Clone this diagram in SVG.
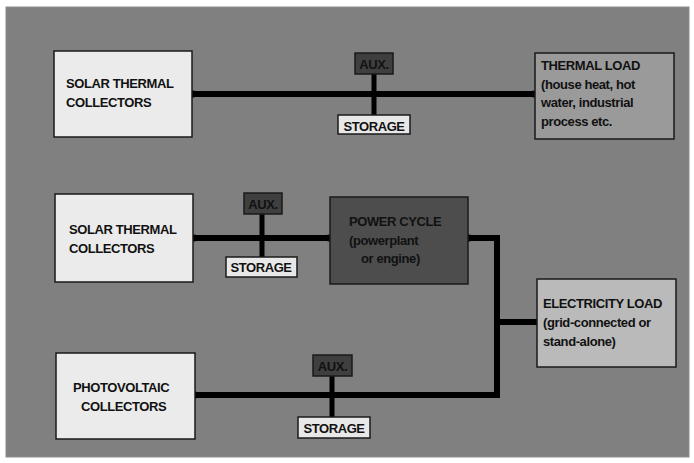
<svg xmlns="http://www.w3.org/2000/svg" width="694" height="463" viewBox="0 0 694 463">
<style>
.box{stroke:#1a1a1a;stroke-width:1.5}
.light{fill:#ebebeb}
.aux{fill:#3f3f3f}
.sto{fill:#e8e8e8}
.t{font-family:"Liberation Sans",Arial,sans-serif;font-weight:bold;font-size:13px;letter-spacing:-0.4px;fill:#111}
.c{text-anchor:middle}
.w{stroke:#000;stroke-width:6;fill:none;stroke-linecap:round;stroke-linejoin:miter}
.v{stroke:#000;stroke-width:5;fill:none}
.dot{fill:#000}
</style>
<rect x="0" y="0" width="694" height="463" fill="#ffffff"/>
<rect x="6" y="7" width="683" height="450" fill="#808080" stroke="#8c8c8c" stroke-width="1"/>

<g id="connectors">
<line class="w" x1="192" y1="94" x2="535" y2="94"/>
<line class="v" x1="374" y1="74" x2="374" y2="115"/>
<line class="w" x1="193" y1="238" x2="330" y2="238"/>
<line class="v" x1="262" y1="214" x2="262" y2="257"/>
<polyline class="w" points="468,238 497,238 497,395 194,395"/>
<line class="w" x1="497" y1="322" x2="537" y2="322"/>
<line class="v" x1="332" y1="376" x2="332" y2="417"/>
<circle class="dot" cx="193" cy="94" r="3.5"/>
<circle class="dot" cx="534" cy="94" r="3.5"/>
<circle class="dot" cx="194" cy="238" r="3.5"/>
<circle class="dot" cx="329" cy="238" r="3.5"/>
<circle class="dot" cx="469" cy="238" r="3.5"/>
<circle class="dot" cx="195" cy="395" r="3.5"/>
</g>

<g id="solar-thermal-1">
<rect class="box light" x="54" y="51" width="138" height="86"/>
<text class="t" x="66" y="88">SOLAR THERMAL</text>
<text class="t" x="66" y="107">COLLECTORS</text>
</g>

<g id="aux-1">
<rect class="box aux" x="355" y="53" width="38" height="21"/>
<text class="t c" x="374" y="69">AUX.</text>
</g>

<g id="storage-1">
<rect class="box sto" x="338" y="115" width="72" height="19"/>
<text class="t c" x="374" y="130.5">STORAGE</text>
</g>

<g id="thermal-load">
<rect class="box" fill="#9a9a9a" x="535" y="53" width="139" height="86"/>
<text class="t" x="541" y="70">THERMAL LOAD</text>
<text class="t" x="541" y="89">(house heat, hot</text>
<text class="t" x="541" y="107">water, industrial</text>
<text class="t" x="541" y="126">process etc.</text>
</g>

<g id="solar-thermal-2">
<rect class="box light" x="55" y="194" width="138" height="88"/>
<text class="t" x="69" y="234">SOLAR THERMAL</text>
<text class="t" x="69" y="253">COLLECTORS</text>
</g>

<g id="aux-2">
<rect class="box aux" x="244" y="193" width="38" height="21"/>
<text class="t c" x="263" y="208.5">AUX.</text>
</g>

<g id="storage-2">
<rect class="box sto" x="226" y="257" width="71" height="20"/>
<text class="t c" x="261" y="272">STORAGE</text>
</g>

<g id="power-cycle">
<rect class="box" fill="#4d4d4d" x="330" y="197" width="138" height="87"/>
<text class="t" x="349" y="226">POWER CYCLE</text>
<text class="t" x="349" y="244.5">(powerplant</text>
<text class="t" x="361" y="263">or engine)</text>
</g>

<g id="electricity-load">
<rect class="box" fill="#bababa" x="537" y="279" width="139" height="88"/>
<text class="t" x="543" y="308">ELECTRICITY LOAD</text>
<text class="t" x="543" y="327">(grid-connected or</text>
<text class="t" x="543" y="346">stand-alone)</text>
</g>

<g id="photovoltaic">
<rect class="box light" x="56" y="353" width="139" height="86"/>
<text class="t" x="73" y="391.5">PHOTOVOLTAIC</text>
<text class="t" x="81" y="410.5">COLLECTORS</text>
</g>

<g id="aux-3">
<rect class="box aux" x="313" y="355" width="39" height="21"/>
<text class="t c" x="332.5" y="371">AUX.</text>
</g>

<g id="storage-3">
<rect class="box sto" x="298" y="417" width="72" height="21"/>
<text class="t c" x="334" y="432.5">STORAGE</text>
</g>
</svg>
